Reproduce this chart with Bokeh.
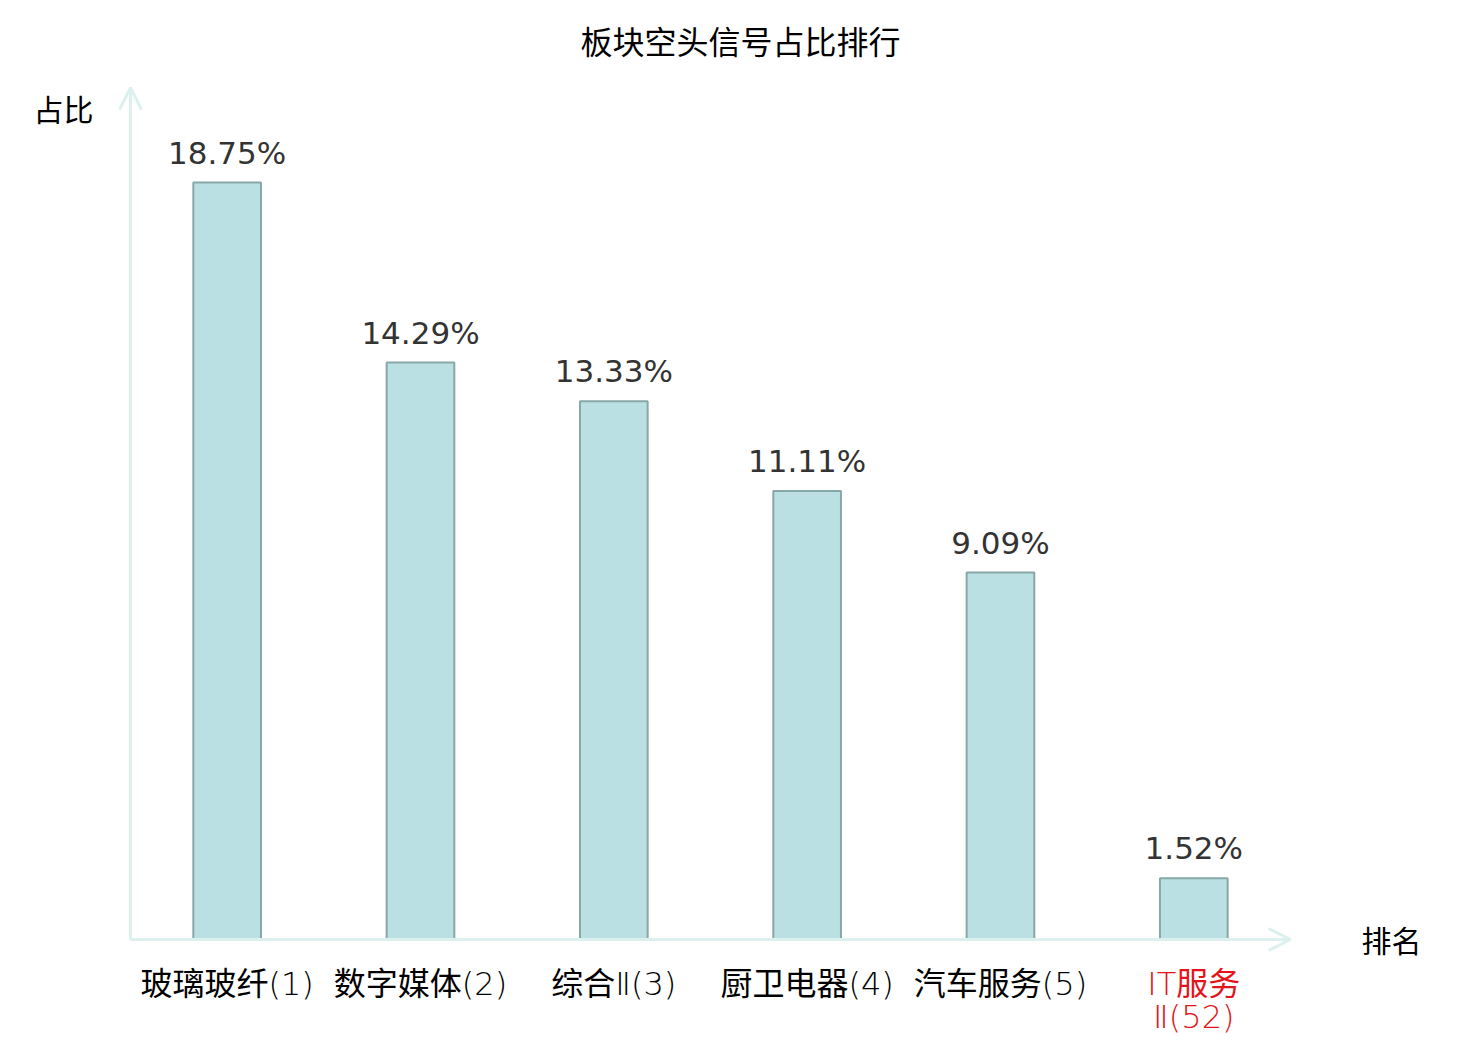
from bokeh.plotting import figure
from bokeh.models import Range1d, Arrow, OpenHead, Label, ColumnDataSource
from bokeh.core.properties import value
from bokeh.embed import file_html
from bokeh.resources import INLINE

# ---- data ----
title_text = "板块空头信号占比排行"
categories = ["玻璃玻纤(1)", "数字媒体(2)", "综合Ⅱ(3)", "厨卫电器(4)", "汽车服务(5)", "IT服务\nⅡ(52)"]
shares = [18.75, 14.29, 13.33, 11.11, 9.09, 1.52]
share_labels = ["18.75%", "14.29%", "13.33%", "11.11%", "9.09%", "1.52%"]
label_colors = ["#000000", "#000000", "#000000", "#000000", "#000000", "#e3141b"]
y_name = "占比"
x_name = "排名"

# ---- style ----
CJK = "Noto Sans CJK SC"
LAB_FONT = "DejaVu Sans ExtraLight, DejaVu Sans Light, Noto Sans CJK SC"
NUM = "DejaVu Sans"
AXIS_COLOR = "#dcf1ee"
BAR_FILL = "#bbe0e3"
BAR_LINE = "#88a8a8"

W, H = 1480, 1040
x0, x1 = -1.1724, 6.483
y0, y1 = -2.502, 23.26
y_top = 21.1

idx = list(range(len(categories)))

p = figure(width=W, height=H, x_range=Range1d(x0, x1), y_range=Range1d(y0, y1),
           output_backend="svg", toolbar_location=None,
           x_axis_location=None, y_axis_location=None, min_border=0,
           outline_line_color=None)
p.xgrid.visible = False
p.ygrid.visible = False
p.background_fill_color = "white"
p.border_fill_color = "white"

src = ColumnDataSource(dict(x=idx, top=shares, lab=share_labels, cat=categories, col=label_colors))

p.vbar(x="x", top="top", bottom=0, width=0.35, source=src,
       fill_color=BAR_FILL, line_color=BAR_LINE, line_width=2)

# axes with arrows
p.add_layout(Arrow(x_start=-0.5, y_start=0, x_end=len(categories) - 0.5, y_end=0,
                   line_color=AXIS_COLOR, line_width=3,
                   end=OpenHead(size=22, line_color=AXIS_COLOR, line_width=3)))
p.add_layout(Arrow(x_start=-0.5, y_start=0, x_end=-0.5, y_end=y_top,
                   line_color=AXIS_COLOR, line_width=3,
                   end=OpenHead(size=22, line_color=AXIS_COLOR, line_width=3)))

# value labels
p.text(x="x", y="top", text="lab", source=src, text_align="center",
       text_baseline="middle", y_offset=-30, text_font=value(NUM),
       text_font_size="31px", text_color="#333333")

# category labels
p.text(x="x", y=0, text="cat", source=src, text_align="center",
       text_baseline="top", y_offset=26, text_font=value(LAB_FONT),
       text_font_size="32px", text_color="col", text_line_height=0.85)

# axis names
p.add_layout(Label(x=-0.5, y=y_top, x_offset=-67, y_offset=-20, text=y_name,
                   text_align="center", text_baseline="middle",
                   text_font=CJK, text_font_size="30px", text_color="#000000"))
p.add_layout(Label(x=len(categories) - 0.5, y=0, x_offset=101, y_offset=0, text=x_name,
                   text_align="center", text_baseline="middle",
                   text_font=CJK, text_font_size="30px", text_color="#000000"))

# title
p.add_layout(Label(x=(x0 + x1) / 2, y=y1, y_offset=-39, text=title_text,
                   text_align="center", text_baseline="middle",
                   text_font=CJK, text_font_size="32px", text_color="#000000"))

open("out.html", "w").write(file_html(p, INLINE))
